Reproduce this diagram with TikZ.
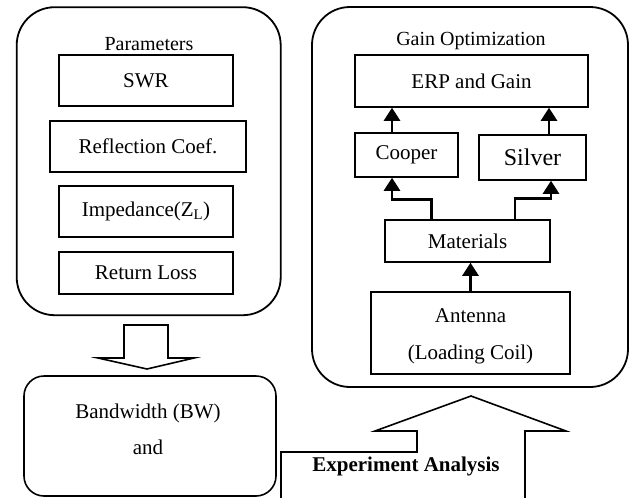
\documentclass[tikz,border=0pt]{standalone}
\usepackage{fontspec}
\setmainfont{Liberation Serif}
\usetikzlibrary{arrows.meta}

\begin{document}
\begin{tikzpicture}[x=1pt,y=-1pt,
		txt/.style={font=\fontsize{21}{25}\selectfont, inner sep=0pt},
		box/.style={txt, draw, line width=1.5pt, align=center},
		group/.style={draw, line width=1.8pt, rounded corners=38pt},
		flow/.style={line width=2.6pt, -{Triangle[width=16pt,length=13pt]}},
		block/.style={draw, line width=1.6pt, fill=white, line join=miter}]
		\useasboundingbox (0,0) rectangle (632,498);
		% parameters group
		\node[group, minimum width=264, minimum height=308] (params) at (148.7,161.2) {};
		\node[txt, font=\fontsize{20}{24}\selectfont] (ptitle) at (149,44) {Parameters};
		\node[box, minimum width=174, minimum height=51] (swr) at (146,80.5) {SWR};
		\node[box, minimum width=196, minimum height=51] (refl) at (148,146.5) {Reflection Coef.};
		\node[box, minimum width=174, minimum height=51] (imp) at (146,211.5) {Impedance(Z\textsubscript{L})};
		\node[box, minimum width=174, minimum height=42] (rl) at (146,273) {Return Loss};
		% gain optimization group
		\node[group, minimum width=316, minimum height=380] (gain) at (470,197) {};
		\node[txt, font=\fontsize{20}{24}\selectfont] (gtitle) at (471,41) {Gain Optimization};
		\node[box, minimum width=233, minimum height=52] (erp) at (471.5,81) {ERP and Gain};
		\node[box, minimum width=103, minimum height=44] (cooper) at (406.5,155) {Cooper};
		\node[box, minimum width=107, minimum height=45, font=\fontsize{24}{28}\selectfont] (silver) at (532.5,157.5) {Silver};
		\node[box, minimum width=165, minimum height=42] (mat) at (467.5,241) {Materials};
		\node[box, minimum width=199, minimum height=82] (ant) at (470.5,333) {};
		\node[txt, align=center] (anttext) at (470.5,336.5) {Antenna\\[12pt](Loading Coil)};
		\draw[flow] (ant.north) -- (ant.north |- mat.south);
		\draw[flow] ([xshift=-36pt]mat.north) -- ++(0,-20) -| ([xshift=-14.5pt]cooper.south);
		\draw[flow] ([xshift=47.5pt]mat.north) -- ++(0,-21) -| ([xshift=18.5pt]silver.south);
		\draw[flow] ([xshift=-14.5pt]cooper.north) -- ([xshift=-14.5pt]cooper.north |- erp.south);
		\draw[flow] ([xshift=16.5pt]silver.north) -- ([xshift=16.5pt]silver.north |- erp.south);
		% bandwidth
		\node[draw, line width=1.6pt, rounded corners=20pt, minimum width=252, minimum height=120] (bw) at (150,436) {};
		\node[txt, align=center] (bwtext) at (148,429) {Bandwidth (BW)\\[11pt]and};
		% block arrows
		\draw[block] (124,325) -- (168,325) -- (168,358) -- (194,358) -- (147,369) -- (98,358) -- (124,358) -- cycle;
		\draw[block] (281,499) -- (281,452) -- (417,452) -- (417,431) -- (375,431) -- (471,396) -- (566,431) -- (525,431) -- (525,499);
		\node[txt, font=\bfseries\fontsize{21}{25}\selectfont] (exp) at (406,466) {Experiment Analysis};
\end{tikzpicture}
\end{document}
